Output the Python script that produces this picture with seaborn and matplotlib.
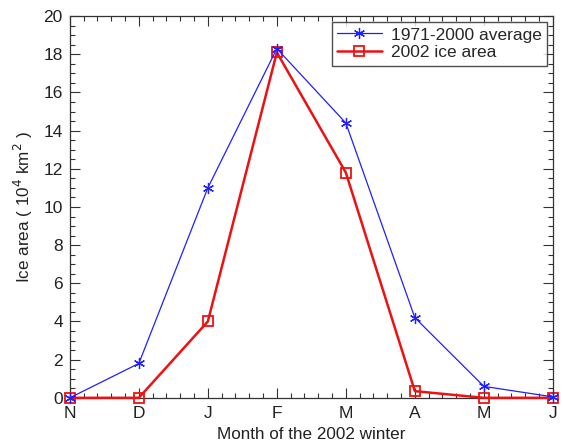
import matplotlib
matplotlib.use("Agg")
import matplotlib.pyplot as plt
import seaborn as sns
import numpy as np
import pandas as pd
from matplotlib.ticker import MultipleLocator

months = ["N", "D", "J", "F", "M", "A", "M", "J"]
avg_1971_2000 = [0.0, 1.8, 11.0, 18.3, 14.4, 4.2, 0.6, 0.05]
ice_2002 = [0.0, 0.0, 4.0, 18.1, 11.8, 0.35, 0.0, 0.0]

sns.set_theme(style="ticks")
plt.rcParams['font.family'] = ['Liberation Sans', 'DejaVu Sans']

x = np.arange(len(months))
df = pd.DataFrame({"x": x, "avg": avg_1971_2000, "y2002": ice_2002})

fig = plt.figure(figsize=(5.63, 4.48), dpi=100)
ax = fig.add_axes([0.124, 0.112, 0.858, 0.852])

sns.lineplot(data=df, x="x", y="avg", ax=ax, color="#2020ff", linewidth=0.9,
             marker=(6, 2, 0), markersize=8, markeredgewidth=0.9,
             markeredgecolor="#2020ff", label="1971-2000 average", clip_on=False,
             zorder=4)
sns.lineplot(data=df, x="x", y="y2002", ax=ax, color="#ee1111", linewidth=1.8,
             marker="s", markersize=7, markerfacecolor="none",
             markeredgewidth=1.3, markeredgecolor="#ee1111", label="2002 ice area",
             clip_on=False, zorder=3)

ax.set_xlim(0, 7)
ax.set_ylim(0, 20)
ax.set_xticks(x)
ax.set_xticklabels(months)
ax.yaxis.set_major_locator(MultipleLocator(2))
ax.yaxis.set_minor_locator(MultipleLocator(0.5))
ax.xaxis.set_minor_locator(MultipleLocator(0.2))
ax.tick_params(which="both", direction="in", top=True, right=True, colors="#333333",
               labelcolor="#222222", width=0.8)
ax.tick_params(which="major", length=7, labelsize=12.5, pad=5)
ax.tick_params(axis="x", which="major", pad=6)
ax.tick_params(which="minor", length=3.5)
for s in ax.spines.values():
    s.set_color("#333333")
    s.set_linewidth(0.9)

ax.set_xlabel("Month of the 2002 winter", fontsize=12.3, color="#222222", labelpad=4)
ax.set_ylabel(r"Ice area ( 10$^4$ km$^2$ )", fontsize=12.3, color="#222222", labelpad=6)

leg = ax.legend(loc="upper right", fontsize=12.5, frameon=True, fancybox=False,
                edgecolor="#222222", borderpad=0.3, handlelength=2.6,
                handletextpad=0.5, borderaxespad=0.35, labelspacing=0.15)
leg.get_frame().set_linewidth(1.0)

fig.savefig("out.png", dpi=100)
